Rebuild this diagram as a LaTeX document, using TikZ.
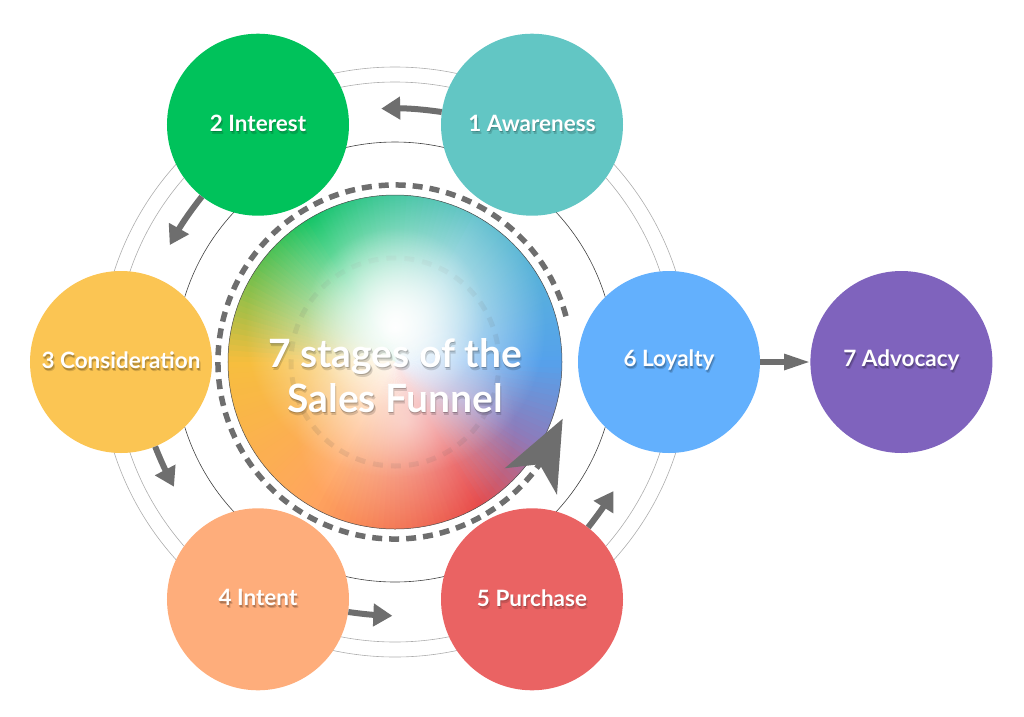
\documentclass[tikz,border=0pt]{standalone}
\usepackage{fontspec}
\setmainfont{Lato}
\usetikzlibrary{positioning,arrows.meta,bending,fadings}

\definecolor{awarecol}{HTML}{62C6C4}
\definecolor{interestcol}{HTML}{00C25B}
\definecolor{considercol}{HTML}{FBC553}
\definecolor{intentcol}{HTML}{FEAD7B}
\definecolor{purchasecol}{HTML}{EA6363}
\definecolor{loyaltycol}{HTML}{63B0FD}
\definecolor{advocacycol}{HTML}{7F63BD}
\definecolor{arrowgray}{HTML}{6E6E6E}
% colours of the funnel gradient
\definecolor{gblue}{HTML}{55A2EC}
\definecolor{gteal}{HTML}{5CBFCB}
\definecolor{ggreen}{HTML}{00C05A}
\definecolor{gyellow}{HTML}{F7BE3E}
\definecolor{gorange}{HTML}{FFA55F}
\definecolor{gred}{HTML}{E84B4B}
\definecolor{gpurple}{HTML}{8E7BBA}

\tikzstyle{stage} = [circle, minimum size=182pt, inner sep=0pt, text=white, font=\fontsize{22.5}{26}\selectfont\bfseries]
\tikzstyle{titletext} = [text=white, align=center, font=\fontsize{39}{45}\selectfont\bfseries]
\tikzstyle{ring} = [draw=black!32, line width=0.6pt]
\tikzstyle{arrow} = [line width=6pt, draw=arrowgray, -{Triangle[length=19pt,width=22pt]}, shorten >=36pt]
\tikzstyle{arrowlong} = [line width=5.5pt, draw=arrowgray, -{Triangle[length=26pt,width=15pt]}]
\tikzstyle{dashring} = [line width=5.5pt, draw=arrowgray, dash pattern=on 10pt off 7pt]

\tikzfading[name=glowfade, inner color=transparent!0, outer color=transparent!100]

\makeatletter
\newcommand{\softshadow}[4]{\rlap{\kern#1\raisebox{#2}{\pgfsys@beginscope\pgfsetfillopacity{#3}\color{black}#4\pgfsys@endscope}}}
\makeatother
\newcommand{\shtext}[1]{\softshadow{0.5pt}{-1.5pt}{0.2}{#1}\softshadow{1.5pt}{-3pt}{0.15}{#1}#1}

\begin{document}
\begin{tikzpicture}[x=1pt, y=1pt]
\useasboundingbox (-395,-354) rectangle (629,362);

% rings
\draw[ring] (0,0) circle (280);
\draw[ring] (0,0) circle (295);
\draw[draw=black!75, line width=0.6pt] (0,0) circle (220);

% funnel gradient
\begin{scope}
  \clip (0,0) circle (167);
  \foreach \sa/\len/\ca/\cb in {0/60/gblue/gteal, 60/60/gteal/ggreen, 120/60/ggreen/gyellow, 180/60/gyellow/gorange, 240/60/gorange/gred, 300/30/gred/gpurple, 330/30/gpurple/gblue}{
    \pgfmathtruncatemacro\nsteps{\len/2-1}
    \foreach \k in {0,...,\nsteps}{
      \pgfmathtruncatemacro\p{(\k+0.5)*200/\len}
      \pgfmathsetmacro\a{\sa+2*\k}
      \fill[\cb!\p!\ca] (0,0) -- (\a:172) arc[start angle=\a, end angle=\a+2.6, radius=172] -- cycle;
    }
  }
  \draw[black, opacity=0.1, line width=5pt, dash pattern=on 10pt off 8pt] (0,0) circle (104);
  \fill[white, path fading=glowfade] (0,35) circle (150);
  \fill[white, opacity=0.8, path fading=glowfade] (0,45) circle (90);
  \fill[white, opacity=0.5, path fading=glowfade] (10,-60) circle (110);
\end{scope}
\node (funnel) [circle, minimum size=334pt, draw=black!70, line width=0.5pt] at (0,0) {};
\node (title) [titletext] at (0,-15) {\shtext{7 stages of the}\\\shtext{Sales Funnel}};

% dashed loop with the big head
\draw[dashring, -{Stealth[length=70pt, width=58pt, inset=19pt, flex]}] (15:177) arc[start angle=15, end angle=341.3, radius=177];

% stages
\node (aware) [stage, fill=awarecol] at (60:274) {\shtext{1 Awareness}};
\node (interest) [stage, fill=interestcol] at (120:274) {\shtext{2 Interest}};
\node (consider) [stage, fill=considercol] at (180:274) {\shtext{3 Consideration}};
\node (intent) [stage, fill=intentcol] at (240:274) {\shtext{4 Intent}};
\node (purchase) [stage, fill=purchasecol] at (300:274) {\shtext{5 Purchase}};
\node (loyalty) [stage, fill=loyaltycol] at (0:274) {\shtext{6 Loyalty}};
\node (advocacy) [stage, fill=advocacycol, right=50pt of loyalty] {\shtext{7 Advocacy}};

\draw[arrow] (aware) to[bend right=8] (interest);
\draw[arrow, shorten >=39pt] (interest) to[bend right=8] (consider);
\draw[arrow, shorten >=56pt] (consider) to[bend right=8] (intent);
\draw[arrow, shorten >=56pt] (intent) to[bend right=8] (purchase);
\draw[arrow, shorten >=56pt] (purchase) to[bend right=8] (loyalty);
\draw[arrowlong] (loyalty) -- (advocacy);
\end{tikzpicture}
\end{document}
